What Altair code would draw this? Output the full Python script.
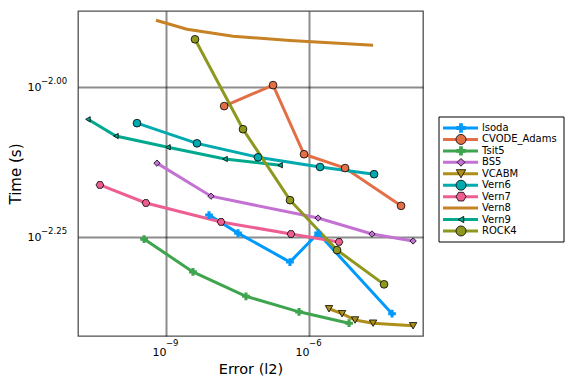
import altair as alt
import pandas as pd

FONT = "DejaVu Sans"

names = ["lsoda", "CVODE_Adams", "Tsit5", "BS5", "VCABM",
         "Vern6", "Vern7", "Vern8", "Vern9", "ROCK4"]
colors = ["#009AFA", "#E36F47", "#3EA44E", "#C371D2", "#AC8E18",
          "#00AAAE", "#ED5E93", "#C68225", "#00A98D", "#8E971E"]

HEX = "M-1,0L-0.5,-0.866L0.5,-0.866L1,0L0.5,0.866L-0.5,0.866Z"
shapes = ["cross", "circle", "cross", "diamond", "triangle-down",
          "circle", HEX, "none", "triangle-left", "circle"]
sizes = [60, 60, 60, 40, 55, 60, 60, 0, 28, 60]
leg_sizes = [90, 100, 90, 60, 90, 100, 100, 0, 40, 100]
stroke_w = [0, 0.8, 0, 0.8, 0.8, 0.8, 0.8, 0, 0.8, 0.8]

err = {
    "lsoda":       [7.98e-9, 3.24e-8, 3.98e-7, 1.55e-6, 5.5e-5],
    "CVODE_Adams": [1.66e-8, 1.76e-7, 7.85e-7, 5.69e-6, 8.5e-5],
    "Tsit5":       [3.47e-10, 3.68e-9, 4.76e-8, 6.17e-7, 6.9e-6],
    "BS5":         [6.47e-10, 8.79e-9, 1.545e-6, 2.09e-5, 1.52e-4],
    "VCABM":       [2.62e-6, 4.92e-6, 9.22e-6, 2.2e-5, 1.52e-4],
    "Vern6":       [2.47e-10, 4.47e-9, 8.5e-8, 1.70e-6, 2.31e-5],
    "Vern7":       [4.12e-11, 3.80e-10, 1.43e-8, 4.19e-7, 4.26e-6],
    "Vern8":       [6.17e-10, 2.75e-9, 2.55e-8, 3.98e-7, 2.2e-5],
    "Vern9":       [2.31e-11, 8.93e-11, 1.10e-9, 1.73e-8, 2.47e-7],
    "ROCK4":       [4.06e-9, 4.12e-8, 3.99e-7, 3.86e-6, 3.74e-5],
}
times = {
    "lsoda":       [0.00612, 0.00571, 0.00511, 0.00571, 0.00419],
    "CVODE_Adams": [0.00930, 0.01008, 0.00773, 0.00733, 0.00634],
    "Tsit5":       [0.00558, 0.00492, 0.00448, 0.00422, 0.00404],
    "BS5":         [0.00747, 0.00658, 0.00605, 0.00569, 0.00554],
    "VCABM":       [0.00427, 0.00419, 0.00409, 0.00404, 0.00400],
    "Vern6":       [0.00871, 0.00806, 0.00764, 0.00736, 0.00716],
    "Vern7":       [0.00687, 0.00641, 0.00596, 0.00569, 0.00552],
    "Vern8":       [0.01293, 0.01249, 0.01216, 0.01197, 0.01175],
    "Vern9":       [0.00884, 0.00829, 0.00794, 0.00759, 0.00741],
    "ROCK4":       [0.01202, 0.00851, 0.00648, 0.00535, 0.00469],
}

x_ticks = [1e-9, 1e-6]
x_exps = ["\u22129", "\u22126"]
y_ticks = [0.01, 10 ** -2.25]
y_exps = ["\u22122.00", "\u22122.25"]

x_domain = [1.43e-11, 2.45e-4]
y_domain = [0.003846, 0.0134]

rows = []
for i, n in enumerate(names):
    for j, (e, t) in enumerate(zip(err[n], times[n])):
        rows.append(dict(name=n, err=e, time=t, order=j, color=colors[i],
                         shape=shapes[i], size=sizes[i], sw=stroke_w[i]))
df = pd.DataFrame(rows)

leg_df = pd.DataFrame(dict(name=names, idx=list(range(len(names))), color=colors,
                           shape=shapes, size=leg_sizes, sw=stroke_w))

xs = alt.Scale(type="log", domain=x_domain, nice=False)
ys = alt.Scale(type="log", domain=y_domain, nice=False)

x_enc = alt.X("err:Q", scale=xs, axis=alt.Axis(
    values=x_ticks, labelExpr="'10'", title="Error (l2)", ticks=False, domain=False,
    labelAlign="right", labelPadding=10, labelFontSize=11, titleFontSize=14.5,
    titleBaseline="alphabetic", titleY=37))
y_enc = alt.Y("time:Q", scale=ys, axis=alt.Axis(
    values=y_ticks, labelExpr="'10'", title="Time (s)", ticks=False, domain=False,
    labelAlign="right", labelBaseline="middle", labelPadding=37, labelFontSize=11,
    titleFontSize=15, titlePadding=4))

base = alt.Chart(df)
lines = base.mark_line(strokeWidth=3).encode(
    x=x_enc, y=y_enc, detail="name:N",
    color=alt.Color("color:N", scale=None), order="order:Q")
points = base.transform_filter("datum.shape != 'none'").mark_point(
    filled=True, stroke="black", opacity=1).encode(
    x=alt.X("err:Q", scale=xs), y=alt.Y("time:Q", scale=ys),
    shape=alt.Shape("shape:N", scale=None),
    size=alt.Size("size:Q", scale=None),
    fill=alt.Fill("color:N", scale=None),
    strokeWidth=alt.StrokeWidth("sw:Q", scale=None))

yexp = alt.Chart(pd.DataFrame({"time": y_ticks, "exp": y_exps})).mark_text(
    align="left", baseline="middle", fontSize=8.5, dy=-6, font=FONT, color="black").encode(
    x=alt.value(-37), y=alt.Y("time:Q", scale=ys), text="exp:N")
xexp = alt.Chart(pd.DataFrame({"err": x_ticks, "exp": x_exps})).mark_text(
    align="left", baseline="top", fontSize=8.5, font=FONT, color="black").encode(
    x=alt.X("err:Q", scale=xs), y=alt.value(328), text="exp:N")

main = alt.layer(lines, points, yexp, xexp)

box = alt.Chart(pd.DataFrame({"a": [0]})).mark_rect(
    fill="white", stroke="black", strokeWidth=1).encode(
    x=alt.value(361), x2=alt.value(486), y=alt.value(106), y2=alt.value(231))
leg = alt.Chart(leg_df).transform_calculate(py="117 + datum.idx * 11.44")
leg_lines = leg.mark_rule(strokeWidth=3).encode(
    x=alt.value(365), x2=alt.value(400),
    y=alt.Y("py:Q", scale=None, axis=None),
    color=alt.Color("color:N", scale=None))
leg_pts = leg.transform_filter("datum.shape != 'none'").mark_point(
    filled=True, stroke="black", opacity=1).encode(
    x=alt.value(383), y=alt.Y("py:Q", scale=None, axis=None),
    shape=alt.Shape("shape:N", scale=None),
    size=alt.Size("size:Q", scale=None),
    fill=alt.Fill("color:N", scale=None),
    strokeWidth=alt.StrokeWidth("sw:Q", scale=None))
leg_text = leg.mark_text(align="left", baseline="middle", fontSize=10,
                         font=FONT, color="black").encode(
    x=alt.value(404), y=alt.Y("py:Q", scale=None, axis=None), text="name:N")
legend = alt.layer(box, leg_lines, leg_pts, leg_text)

chart = alt.layer(main, legend).resolve_scale(
    x="independent", y="independent"
).properties(
    width=345, height=325,
    autosize=alt.AutoSizeParams(type="none"),
    padding={"left": 70, "top": 3, "right": 145, "bottom": 40},
).configure_view(
    stroke="#505050", strokeWidth=1.3
).configure_axis(
    grid=True, gridColor="#000000", gridOpacity=0.45, gridWidth=2,
    labelFont=FONT, titleFont=FONT, labelColor="black", titleColor="black",
    titleFontWeight="normal"
)

chart.save("out.html", embed_options={"renderer": "svg", "actions": False})
